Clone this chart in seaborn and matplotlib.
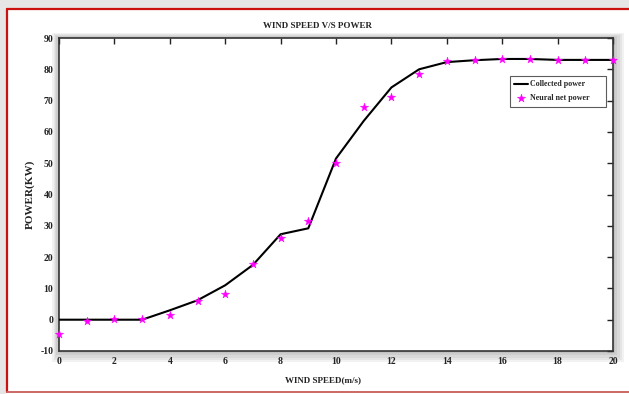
import numpy as np
import pandas as pd
import matplotlib
matplotlib.use("Agg")
import matplotlib.pyplot as plt
import matplotlib.patches as mpatches
import seaborn as sns

wind_speed = [0, 1, 2, 3, 4, 5, 6, 7, 8, 9, 10, 11, 12, 13, 14, 15, 16, 17, 18, 19, 20]
collected_power = [0, 0, 0, 0, 3, 6.2, 11, 17.5, 27.3, 29.2, 51.5, 63.5, 74.2, 80, 82.3, 82.9, 83.3, 83.3, 83.0, 83.0, 83.0]
neural_power = [-4.7, -0.3, 0.1, 0.1, 1.5, 6.0, 8.2, 17.8, 26.0, 31.5, 50.2, 68.1, 71.3, 78.5, 82.6, 83.0, 83.3, 83.3, 82.9, 82.9, 82.9]
x_ticks = [0, 2, 4, 6, 8, 10, 12, 14, 16, 18, 20]
y_ticks = [-10, 0, 10, 20, 30, 40, 50, 60, 70, 80, 90]

sns.set_theme(style="white")
plt.rcParams['font.family'] = ['Liberation Serif', 'DejaVu Serif']
plt.rcParams['font.weight'] = 'bold'
plt.rcParams['axes.unicode_minus'] = False

df_c = pd.DataFrame({"speed": wind_speed, "power": collected_power})
df_n = pd.DataFrame({"speed": wind_speed, "power": neural_power})

fig = plt.figure(figsize=(6.29, 3.94), dpi=100)
fig.patch.set_facecolor('white')

W, H = 629, 394
# outer grey margins and red frame
fig.patches.append(mpatches.Rectangle((0, 1 - 8 / H), 1, 8 / H, transform=fig.transFigure,
                                      facecolor='#e6e6e6', edgecolor='none', zorder=-5))
fig.patches.append(mpatches.Rectangle((0, 0), 6 / W, 1, transform=fig.transFigure,
                                      facecolor='#e6e6e6', edgecolor='none', zorder=-5))
fig.lines.append(plt.Line2D([7 / W, 1], [1 - 8.5 / H, 1 - 8.5 / H], transform=fig.transFigure,
                            color='#cc1111', lw=1.6, zorder=-4))
fig.lines.append(plt.Line2D([7 / W, 7 / W], [2 / H, 1 - 8.5 / H], transform=fig.transFigure,
                            color='#cc1111', lw=1.6, zorder=-4))
fig.lines.append(plt.Line2D([7 / W, 1], [2 / H, 2 / H], transform=fig.transFigure,
                            color='#cc6666', lw=1.4, zorder=-4))

left, right, top, bottom = 59 / W, 613 / W, 1 - 38 / H, 1 - 351 / H
# soft shadow around axes
for i in range(5):
    d = (i + 1) * 2.2
    fig.patches.append(mpatches.Rectangle(
        (left - d / W * 0.6, bottom - d / H * 1.0), (right - left) + d / W * 1.6, (top - bottom) + d / H * 1.5,
        transform=fig.transFigure, facecolor='black', edgecolor='none', alpha=0.05, zorder=-3))

ax = fig.add_axes([left, bottom, right - left, top - bottom])
ax.set_zorder(2)
ax.set_facecolor('white')

sns.lineplot(data=df_c, x="speed", y="power", ax=ax, color='black', lw=1.5,
             label='Collected power', zorder=3)
sns.scatterplot(data=df_n, x="speed", y="power", ax=ax, color='#ff00ff', marker='*',
                s=40, edgecolor='#ff00ff', linewidth=0.3, label='Neural net power', zorder=4, clip_on=False)

ax.set_xlim(0, 20)
ax.set_ylim(-10, 90)
ax.set_xticks(x_ticks)
ax.set_yticks(y_ticks)
ax.tick_params(direction='in', length=4, width=1, top=True, right=True,
               labelsize=7, colors='#222222', pad=4)
for lab in ax.get_xticklabels() + ax.get_yticklabels():
    lab.set_fontweight('bold')
for s in ax.spines.values():
    s.set_color('#333333')
    s.set_linewidth(1.2)

ax.set_title('WIND SPEED V/S POWER', fontsize=6.5, fontweight='bold', pad=7, color='#222222', x=0.4675)
ax.set_xlabel('WIND SPEED(m/s)', fontsize=6.5, fontweight='bold', color='#222222')
ax.xaxis.set_label_coords(0.477, -0.08)
ax.set_ylabel('POWER(KW)', fontsize=8, fontweight='bold', color='#222222')
ax.yaxis.set_label_coords(-0.043, 0.5)

leg = ax.legend(loc='upper left', bbox_to_anchor=(0.814, 0.776, 0.173, 0.1026), mode='expand',
                borderaxespad=0, frameon=True,
                fancybox=False, edgecolor='#333333', handlelength=1.7, handletextpad=0.3,
                borderpad=0.55, labelspacing=0.75, prop={'weight': 'bold', 'size': 5.8})
leg.get_frame().set_linewidth(0.8)

fig.savefig('out.png', dpi=100)
